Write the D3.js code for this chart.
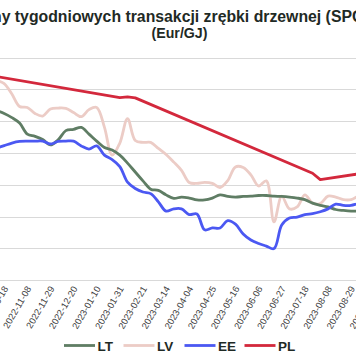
<!DOCTYPE html>
<html><head><meta charset="utf-8">
<script src="https://cdn.jsdelivr.net/npm/d3@7/dist/d3.min.js"></script>
<style>
html,body{margin:0;padding:0;background:#fff;overflow:hidden;}
svg{display:block;}
</style></head>
<body>
<svg id="chart" width="356" height="364"></svg>
<script>
const dates = ["2022-10-11","2022-10-18","2022-10-25","2022-11-01","2022-11-08","2022-11-15","2022-11-22","2022-11-29",
"2022-12-06","2022-12-13","2022-12-20","2022-12-27","2023-01-03","2023-01-10","2023-01-17","2023-01-24","2023-01-31",
"2023-02-07","2023-02-14","2023-02-21","2023-02-28","2023-03-07","2023-03-14","2023-03-21","2023-03-28","2023-04-04",
"2023-04-11","2023-04-18","2023-04-25","2023-05-02","2023-05-09","2023-05-16","2023-05-23","2023-05-30","2023-06-06",
"2023-06-13","2023-06-20","2023-06-27","2023-07-04","2023-07-11","2023-07-18","2023-07-25","2023-08-01","2023-08-08",
"2023-08-15","2023-08-22","2023-08-29","2023-09-05","2023-09-12"];

const LT = [7.33,7.24,7.11,6.94,6.59,6.52,6.42,6.25,6.41,6.70,6.74,6.80,6.59,6.37,6.17,6.09,5.93,5.68,5.40,5.12,4.86,4.82,
4.68,4.57,4.61,4.58,4.52,4.52,4.58,4.68,4.63,4.61,4.63,4.64,4.66,4.66,4.64,4.63,4.61,4.58,4.53,4.42,4.35,4.30,4.22,4.19,4.17,4.17,4.17];

const LV = [8.28,8.18,7.85,7.46,7.43,7.24,7.16,7.38,7.41,7.40,7.27,7.14,7.36,7.43,6.81,5.93,6.31,7.08,6.39,6.33,6.33,6.14,
5.95,5.71,5.45,5.07,5.04,5.07,5.04,4.91,5.13,5.56,5.54,5.31,4.96,5.12,3.83,4.64,4.24,4.30,4.68,4.42,4.41,4.64,4.61,4.53,4.53,4.64,4.68];

const EE = [6.15,6.23,6.31,6.36,6.37,6.37,6.37,6.28,6.36,6.37,6.37,6.22,6.12,6.22,5.93,5.79,5.57,5.08,4.88,4.77,4.72,4.46,
4.17,4.24,4.24,4.06,4.08,3.58,3.64,3.64,3.87,3.76,3.45,3.26,3.15,3.07,2.99,3.73,3.95,3.98,4.06,4.09,4.15,4.24,4.39,4.35,4.35,4.41,4.42];

const PL = [8.40,null,null,null,null,null,null,null,null,null,null,null,null,null,null,null,7.74,7.76,7.73,null,null,null,
null,null,null,null,null,null,null,null,null,null,null,null,null,null,null,null,null,null,null,5.36,5.16,null,null,null,null,null,5.38];

const tickLabels = ["2022-10-18","2022-11-08","2022-11-29","2022-12-20","2023-01-10","2023-01-31","2023-02-21","2023-03-14",
"2023-04-04","2023-04-25","2023-05-16","2023-06-06","2023-06-27","2023-07-18","2023-08-08","2023-08-29","2023-09-19"];

const yTicks = [2,3,4,5,6,7,8,9];
const titleLines = ["Ceny tygodniowych transakcji zrębki drzewnej (SPOT)","(Eur/GJ)"];
const seriesNames = ["LT","LV","EE","PL"];
const colors = {LT:"#5f7d64", LV:"#ecccc6", EE:"#4b58f2", PL:"#d3283c"};

const parse = d3.utcParse("%Y-%m-%d");
const svg = d3.select("#chart");

const x = d3.scaleTime()
  .domain([parse("2022-10-11"), parse("2023-09-19")])
  .range([-3.54, 374.25]);
const y = d3.scaleLinear().domain([2, 9]).range([280.1, 57.5]);

// gridlines
svg.append("g").selectAll("line").data(yTicks).join("line")
  .attr("x1", 0).attr("x2", 356)
  .attr("y1", d => Math.round(y(d)) + 0.5).attr("y2", d => Math.round(y(d)) + 0.5)
  .attr("stroke", "#d9d9d9").attr("stroke-width", 1.2);

// title
svg.append("text").attr("x", 175.5).attr("y", 21.5).attr("text-anchor", "middle")
  .attr("font-family", "Liberation Sans, Arial, sans-serif").attr("font-weight", "bold")
  .attr("font-size", 15.8).attr("fill", "#1f2a25").text(titleLines[0]);
svg.append("text").attr("x", 179.5).attr("y", 37.8).attr("text-anchor", "middle")
  .attr("font-family", "Liberation Sans, Arial, sans-serif").attr("font-weight", "bold")
  .attr("font-size", 14.2).attr("fill", "#1f2a25").text(titleLines[1]);

// x axis
const xAxis = d3.axisBottom(x)
  .tickValues(tickLabels.map(parse))
  .tickFormat(d3.utcFormat("%Y-%m-%d"))
  .tickSize(0).tickPadding(0);
const gx = svg.append("g").attr("transform", "translate(0,280)").call(xAxis);
gx.select(".domain").remove();
gx.selectAll("text")
  .attr("font-family", "Liberation Sans, Arial, sans-serif")
  .attr("font-size", 9.3).attr("fill", "#404040")
  .attr("text-anchor", "end")
  .attr("dy", "0.35em")
  .attr("transform", "translate(1,7) rotate(-60)")
  .attr("y", 0).attr("x", 0);

// lines
const data = {LT, LV, EE, PL};
const line = d3.line()
  .defined(d => d.v !== null)
  .x(d => x(d.d)).y(d => y(d.v))
  .curve(d3.curveCatmullRom.alpha(0.5));
const linePL = d3.line()
  .x(d => x(d.d)).y(d => y(d.v))
  .curve(d3.curveLinear);

["LV","LT","EE","PL"].forEach(name => {
  const pts = dates.map((s, i) => ({d: parse(s), v: data[name][i]}));
  svg.append("path")
    .attr("d", name === "PL" ? linePL(pts.filter(p => p.v !== null)) : line(pts))
    .attr("fill", "none").attr("stroke", colors[name])
    .attr("stroke-width", 2.8).attr("stroke-linejoin", "round").attr("stroke-linecap", "round");
});

// legend
const legendX = [64, 123.5, 184.5, 244.5];
const lg = svg.append("g");
seriesNames.forEach((name, i) => {
  lg.append("line").attr("x1", legendX[i]).attr("x2", legendX[i] + 31)
    .attr("y1", 345.5).attr("y2", 345.5)
    .attr("stroke", colors[name]).attr("stroke-width", 2.8);
  lg.append("text").attr("x", legendX[i] + 33.5).attr("y", 350.5)
    .attr("font-family", "Liberation Sans, Arial, sans-serif").attr("font-weight", "bold")
    .attr("font-size", 13.5).attr("fill", "#1f2a25").text(name);
});
</script>
</body></html>
